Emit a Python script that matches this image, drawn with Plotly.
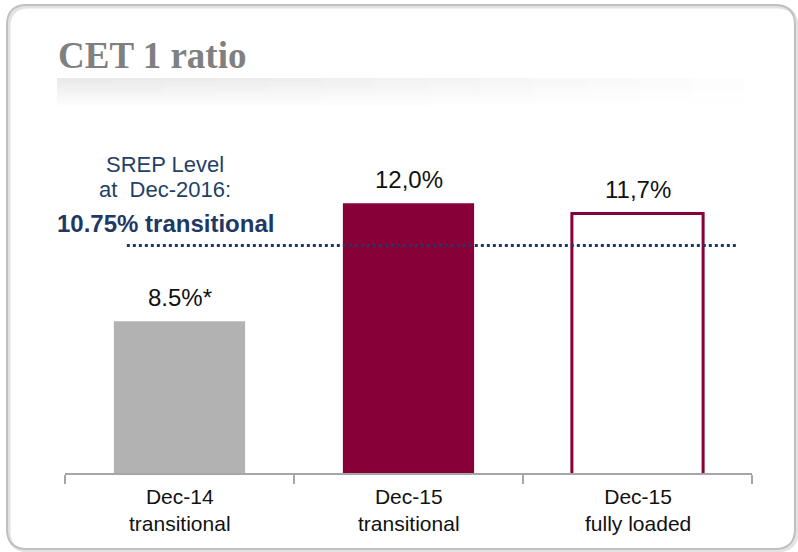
import plotly.graph_objects as go

# ---- data ----
categories = ["Dec-14", "Dec-15 ", "Dec-15"]
sublabels = ["transitional", "transitional", "fully loaded"]
values = [8.5, 12.0, 11.7]
value_labels = ["8.5%*", "12,0%", "11,7%"]
srep_level = 10.75
title_text = "CET 1 ratio"
srep_lines = ["SREP Level", "at  Dec-2016:", "10.75% transitional"]

# ---- styling ----
W, H = 798, 552
L, R, T, B = 65, 752, 140, 473
GRAY = "#b2b2b2"
MAROON = "#870038"
NAVY = "#1f3864"
FONT = "Liberation Sans, Arial"

def px(x):
    return (x - L) / (R - L)

def py(y):
    return (B - y) / (B - T)

fill_colors = [GRAY, MAROON, "#ffffff"]
line_widths = [0, 0, 3]

fig = go.Figure()
fig.add_trace(go.Bar(
    x=categories, y=values, width=0.573,
    marker=dict(color=fill_colors, line=dict(color=MAROON, width=line_widths)),
    hoverinfo="skip",
))

shapes = []

def rounded(x0, y0, x1, y1, r):
    return (f"M {px(x0+r)},{py(y0)} L {px(x1-r)},{py(y0)} "
            f"Q {px(x1)},{py(y0)} {px(x1)},{py(y0+r)} "
            f"L {px(x1)},{py(y1-r)} Q {px(x1)},{py(y1)} {px(x1-r)},{py(y1)} "
            f"L {px(x0+r)},{py(y1)} Q {px(x0)},{py(y1)} {px(x0)},{py(y1-r)} "
            f"L {px(x0)},{py(y0+r)} Q {px(x0)},{py(y0)} {px(x0+r)},{py(y0)} Z")

shapes.append(dict(type="path", xref="paper", yref="paper", path=rounded(9, 7, 797, 551, 20),
                   line=dict(color="#e3e3e3", width=3), layer="below"))
shapes.append(dict(type="path", xref="paper", yref="paper", path=rounded(7, 5, 795, 549, 20),
                   line=dict(color="#c0c0c0", width=2), layer="below"))

# gradient band under title
rows, cols = 10, 14
y_top, y_bot = 78, 106
x_left, x_right = 57, 797
for i in range(rows):
    yy0 = y_top + (y_bot - y_top) * i / rows
    yy1 = y_top + (y_bot - y_top) * (i + 1) / rows
    vfac = 1 - i / rows
    for j in range(cols):
        xx0 = x_left + (x_right - x_left) * j / cols
        xx1 = x_left + (x_right - x_left) * (j + 1) / cols
        hfac = max(0.0, 1 - (j / cols) ** 1.3 * 1.1)
        a = 0.16 * vfac * hfac
        if a <= 0.002:
            continue
        shapes.append(dict(type="rect", xref="paper", yref="paper",
                           x0=px(xx0), x1=px(xx1), y0=py(yy1), y1=py(yy0),
                           fillcolor=f"rgba(120,120,120,{a:.3f})", line=dict(width=0),
                           layer="below"))

# SREP dotted line
shapes.append(dict(type="line", xref="x", yref="y", x0=-0.23, x1=2.44, y0=srep_level, y1=srep_level,
                   line=dict(color=NAVY, width=3, dash="dot")))

annotations = []
for c, v, t in zip(categories, values, value_labels):
    annotations.append(dict(x=c, y=v, xref="x", yref="y", text=t, showarrow=False,
                            yanchor="bottom", yshift=8,
                            font=dict(family=FONT, size=24, color="#111111")))

# category labels (two lines)
for c, s in zip(categories, sublabels):
    annotations.append(dict(x=c, y=py(510), xref="x", yref="paper", text=f"{c.strip()}<br>{s}",
                            showarrow=False, yanchor="middle",
                            font=dict(family=FONT, size=21, color="#111111")))

annotations.append(dict(xref="paper", yref="paper", x=px(56), y=py(55), text=f"<b>{title_text}</b>",
                        showarrow=False, xanchor="left", yanchor="middle",
                        font=dict(family="Liberation Serif, Times New Roman", size=37, color="#808080")))

srep_y = [164, 189, 223]
for k, (txt, yy) in enumerate(zip(srep_lines, srep_y)):
    annotations.append(dict(xref="paper", yref="paper", x=px(165), y=py(yy),
                            text=(f"<b>{txt}</b>" if k == 2 else txt), showarrow=False,
                            xanchor="center", yanchor="middle",
                            font=dict(family=FONT, size=22 if k < 2 else 24,
                                      color="#243f66" if k < 2 else NAVY)))

fig.update_layout(
    width=W, height=H,
    margin=dict(l=L, r=W - R, t=T, b=H - B),
    paper_bgcolor="white", plot_bgcolor="rgba(0,0,0,0)",
    showlegend=False,
    shapes=shapes, annotations=annotations,
    xaxis=dict(showline=True, linecolor="#a6a6a6", linewidth=1.5,
               ticks="outside", tickson="boundaries", ticklen=9, tickcolor="#a6a6a6", tickwidth=1.5,
               showticklabels=False,
               showgrid=False, zeroline=False, fixedrange=True),
    yaxis=dict(range=[4, 4 + (B - T) / 33.714], visible=False, showgrid=False, fixedrange=True),
    bargap=0.427,
)

fig.write_html("out.html", config={"displayModeBar": False},
               post_script="document.body.style.margin='0';document.body.style.overflow='hidden';")
